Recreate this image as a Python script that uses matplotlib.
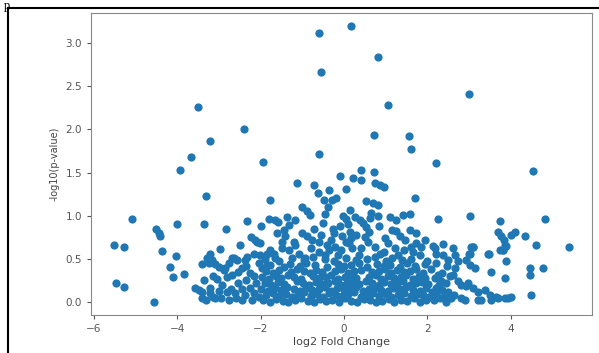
import numpy as np
import matplotlib
matplotlib.use('Agg')
import matplotlib.pyplot as plt
from matplotlib.lines import Line2D

# significant / high points
top_fc = [-3.50, -2.40, -3.21, -3.67, -3.93, -1.94, -3.32, -0.59, 0.18, 0.81,
          -0.55, 3.00, 1.05, 0.72, 1.57, 1.61, -0.59, 2.21, 4.54, 0.40,
          0.72, -0.10, 0.22, 0.42, 0.74, 0.86, 0.96, 1.70, 0.54, 0.70,
          -1.13, -0.71, -0.63, -0.36, 0.04, -0.47, -0.29, -0.18, -1.77, 0.82]
top_logp = [2.26, 2.00, 1.87, 1.68, 1.53, 1.62, 1.23, 3.12, 3.20, 2.84,
            2.67, 2.41, 2.28, 1.94, 1.92, 1.77, 1.71, 1.61, 1.52, 1.53,
            1.51, 1.46, 1.44, 1.41, 1.38, 1.36, 1.33, 1.20, 1.17, 1.15,
            1.38, 1.36, 1.26, 1.30, 1.31, 1.18, 1.18, 1.20, 1.18, 1.12]

# middle band
mid_fc = [-5.08, -4.00, -3.37, -2.82, -2.32, -4.51, -4.45, -4.41, -5.52, -5.29,
          -4.37, -4.03, -2.49, -2.23, -3.21, -2.97, -1.98, -1.81, -1.59, -1.36,
          -2.01, -2.09, -0.38, 0.14, -1.01, -0.89, -0.82, 0.26, 0.38, 0.04,
          -1.65, -1.18, -1.33, -1.45, -0.71, -0.26, -0.23, 0.14, 0.18, -1.41,
          -1.49, -1.01, -0.89, -0.77, -0.61, -2.13, -0.22, -0.06, -1.77, -1.33,
          -1.09, -0.61, -1.17, -1.49, 0.66, 0.82, 1.10, 1.26, 1.42, 1.58,
          2.26, 0.46, 0.54, 0.61, 1.58, 1.74, 0.98, 0.58, 1.34, 1.46,
          1.74, 1.86, 2.14, 2.38, 1.22, 2.22, 2.38, 0.86, 1.66, 1.82,
          3.02, 3.00, 3.74, 4.82, 3.70, 3.77, 3.84, 4.10, 4.02, 4.34,
          4.60, 5.40, 3.90, 3.74, 3.48, 3.06, -0.40, 0.05, 0.40, 0.75,
          1.05, 1.60, -0.05, 0.30, 1.15, 0.85, -0.50, 1.95, -0.93, -0.46,
          2.18, 2.62, 3.10, 3.82,
          -0.30, -0.10, 0.10, 0.20, -0.15, 0.35, -0.55, 0.50, -0.80, 1.30,
          1.45, -1.60, 0.95, 1.25, -0.45, -0.02, 0.12, -0.35, 0.62, -1.20]
mid_logp = [0.96, 0.90, 0.90, 0.85, 0.94, 0.85, 0.80, 0.76, 0.66, 0.64,
            0.59, 0.53, 0.66, 0.75, 0.56, 0.61, 0.88, 0.96, 0.93, 0.98,
            0.68, 0.70, 1.10, 1.07, 1.10, 1.06, 1.01, 0.98, 0.95, 0.96,
            0.95, 0.95, 0.89, 0.84, 0.85, 0.85, 0.80, 0.81, 0.74, 0.76,
            0.70, 0.80, 0.76, 0.72, 0.70, 0.72, 0.64, 0.60, 0.60, 0.60,
            0.56, 0.58, 0.66, 0.62, 1.03, 1.00, 0.99, 0.95, 1.01, 1.02,
            0.96, 0.92, 0.87, 0.81, 0.83, 0.80, 0.74, 0.70, 0.76, 0.72,
            0.68, 0.64, 0.65, 0.67, 0.62, 0.56, 0.54, 0.56, 0.58, 0.54,
            1.00, 0.56, 0.94, 0.96, 0.81, 0.76, 0.72, 0.81, 0.78, 0.76,
            0.66, 0.64, 0.65, 0.60, 0.56, 0.64, 0.66, 0.70, 0.62, 0.64,
            0.68, 0.64, 0.76, 0.78, 0.84, 0.88, 0.92, 0.72, 0.51, 0.54,
            0.62, 0.62, 0.64, 0.60,
            0.72, 0.88, 0.90, 0.62, 0.55, 0.55, 0.78, 0.75, 0.62, 0.55,
            0.60, 0.80, 0.58, 0.82, 1.02, 1.00, 0.68, 0.60, 0.97, 0.70]

# outer low points (left tail, right tail)
side_fc = [-4.17, -4.11, -3.83, -5.48, -5.29, -4.56,
           -3.41, -3.29, -3.17, -3.25, -3.09, -2.89, -2.65, -2.37, -2.69, -2.57,
           -2.85, -2.69, -2.45, -2.25, -3.05, -2.81, -3.49, -3.41, -3.57, -3.41,
           -3.21, -3.01, -2.81, -2.61, -2.37, -2.17, -3.21, -3.09, -2.77, -2.45,
           -2.33, -2.17, -2.01, -1.85, -1.69, -1.97, -1.85, -1.65, -3.30, -3.15,
           -2.95, -2.60, -2.20, -2.05, -3.35, -3.15, -2.93, -2.55, -2.35, -2.10,
           -2.70, -2.15, -2.05, -2.45, -2.25, -2.55, -2.35, -2.75, -3.00,
           2.50, 3.10, 3.02, 2.94, 3.02, 3.14, 3.46, 3.86, 3.82, 3.90,
           3.54, 3.86, 2.66, 2.62, 2.74, 2.82, 2.94, 3.10, 3.22, 3.38,
           3.50, 3.66, 3.86, 4.02, 2.26, 2.34, 2.22, 2.42, 2.58, 2.90,
           3.22, 3.54, 2.66, 2.74, 4.46, 4.46, 4.78, 4.48, 3.94, 2.98,
           3.30, 2.15, 2.30, 2.45, 2.20, 2.35, 2.50, 2.28, 2.45, 2.18,
           2.35, 2.10, 2.55, 2.65, 2.80, 2.22, 2.48, 3.70]
side_logp = [0.40, 0.29, 0.32, 0.22, 0.17, 0.00,
             0.44, 0.51, 0.49, 0.45, 0.44, 0.37, 0.51, 0.49, 0.51, 0.49,
             0.39, 0.31, 0.39, 0.33, 0.27, 0.29, 0.14, 0.04, 0.16, 0.12,
             0.16, 0.13, 0.12, 0.10, 0.08, 0.10, 0.10, 0.04, 0.02, 0.02,
             0.52, 0.56, 0.54, 0.56, 0.56, 0.39, 0.43, 0.51, 0.02, 0.06,
             0.05, 0.04, 0.02, 0.06, 0.25, 0.30, 0.20, 0.22, 0.25, 0.22,
             0.15, 0.30, 0.45, 0.15, 0.16, 0.35, 0.42, 0.45, 0.40,
             0.49, 0.64, 0.56, 0.49, 0.43, 0.39, 0.56, 0.66, 0.60, 0.47,
             0.35, 0.28, 0.39, 0.31, 0.24, 0.20, 0.18, 0.16, 0.12, 0.14,
             0.08, 0.06, 0.04, 0.06, 0.31, 0.24, 0.16, 0.08, 0.04, 0.02,
             0.02, 0.02, 0.54, 0.47, 0.39, 0.31, 0.39, 0.08, 0.04, 0.22,
             0.02, 0.02, 0.05, 0.00, 0.10, 0.14, 0.12, 0.20, 0.22, 0.28,
             0.34, 0.38, 0.30, 0.08, 0.05, 0.45, 0.42, 0.04]

# dense bulk near zero
core_fc = [-1.95, -1.78, -1.63, -1.47, -1.34, -1.17, -1.02, -0.86, -0.73, -0.57,
           -0.44, -0.28, -0.13, 0.03, 0.18, 0.31, 0.47, 0.63, 0.76, 0.92,
           1.07, 1.21, 1.38, 1.52, 1.67, 1.83, 1.97,
           -1.88, -1.70, -1.56, -1.40, -1.25, -1.10, -0.95, -0.80, -0.64, -0.50,
           -0.36, -0.20, -0.05, 0.10, 0.25, 0.40, 0.55, 0.70, 0.84, 1.00,
           1.14, 1.30, 1.45, 1.60, 1.75, 1.90, 2.05,
           -1.98, -1.82, -1.66, -1.52, -1.36, -1.20, -1.06, -0.90, -0.76, -0.60,
           -0.46, -0.31, -0.16, 0.00, 0.14, 0.29, 0.45, 0.60, 0.74, 0.90,
           1.05, 1.20, 1.35, 1.50, 1.65, 1.82, 1.96, 2.12,
           -1.90, -1.74, -1.58, -1.44, -1.12, -0.98, -0.83, -0.68, -0.53, -0.38,
           -0.22, -0.08, 0.08, 0.22, 0.37, 0.52, 0.68, 0.83, 0.97, 1.12,
           1.27, 1.42, 1.58, 1.73, 1.88, 2.02,
           -1.96, -1.80, -1.64, -1.50, -1.35, -1.20, -1.04, -0.74, -0.60, -0.44,
           -0.30, -0.14, 0.02, 0.16, 0.30, 0.60, 0.76, 0.90, 1.05, 1.20,
           1.36, 1.50, 1.66, 1.80, 1.95,
           -1.88, -1.70, -1.55, -1.28, -1.12, -0.96, -0.82, -0.66, -0.52, -0.22,
           -0.06, 0.10, 0.24, 0.40, 0.68, 0.84, 0.98, 1.14, 1.28, 1.44,
           1.58, 1.74, 1.90,
           -1.78, -1.45, -1.30, -1.05, -0.90, -0.70, -0.40, -0.15, 0.00, 0.18,
           0.35, 0.55, 0.80, 0.95, 1.10, 1.35, 1.52, 1.70, 1.95,
           -1.90, -1.55, -1.25, -0.95, -0.75, -0.45, -0.25, 0.05, 0.30, 0.55,
           0.75, 1.00, 1.15, 1.40, 1.60, 2.00]
core_logp = [0.02, 0.00, 0.03, 0.01, 0.00, 0.02, 0.04, 0.01, 0.00, 0.03,
             0.01, 0.02, 0.00, 0.04, 0.01, 0.00, 0.03, 0.02, 0.00, 0.01,
             0.03, 0.00, 0.02, 0.01, 0.04, 0.00, 0.02,
             0.08, 0.10, 0.07, 0.09, 0.06, 0.08, 0.11, 0.07, 0.09, 0.06,
             0.10, 0.08, 0.07, 0.09, 0.11, 0.06, 0.08, 0.10, 0.07, 0.09,
             0.06, 0.08, 0.10, 0.07, 0.09, 0.08, 0.06,
             0.15, 0.13, 0.16, 0.14, 0.17, 0.15, 0.13, 0.16, 0.14, 0.15,
             0.17, 0.13, 0.16, 0.14, 0.15, 0.17, 0.13, 0.15, 0.16, 0.14,
             0.13, 0.16, 0.15, 0.17, 0.14, 0.13, 0.16, 0.12,
             0.22, 0.20, 0.23, 0.21, 0.24, 0.22, 0.20, 0.23, 0.21, 0.22,
             0.24, 0.20, 0.22, 0.23, 0.21, 0.24, 0.22, 0.20, 0.23, 0.21,
             0.22, 0.24, 0.20, 0.22, 0.23, 0.21,
             0.29, 0.27, 0.30, 0.28, 0.31, 0.29, 0.27, 0.30, 0.28, 0.29,
             0.31, 0.27, 0.29, 0.30, 0.28, 0.29, 0.31, 0.27, 0.30, 0.28,
             0.29, 0.31, 0.27, 0.30, 0.28,
             0.36, 0.34, 0.37, 0.35, 0.38, 0.36, 0.34, 0.37, 0.35, 0.36,
             0.38, 0.34, 0.36, 0.37, 0.35, 0.36, 0.38, 0.34, 0.37, 0.35,
             0.36, 0.38, 0.34,
             0.43, 0.41, 0.44, 0.42, 0.45, 0.43, 0.41, 0.44, 0.42, 0.43,
             0.45, 0.41, 0.44, 0.42, 0.43, 0.41, 0.45, 0.42, 0.44,
             0.50, 0.48, 0.51, 0.49, 0.52, 0.50, 0.48, 0.51, 0.49, 0.50,
             0.52, 0.48, 0.51, 0.49, 0.50, 0.48]

fc = np.array(top_fc + mid_fc + side_fc + core_fc)
logp = np.array(top_logp + mid_logp + side_logp + core_logp)

fig = plt.figure(figsize=(5.99, 3.53), dpi=100)
ax = fig.add_axes([0.152, 0.108, 0.836, 0.855])
ax.scatter(fc, logp, s=35, color='#1f77b4', linewidths=0)

ax.set_xticks([-6, -4, -2, 0, 2, 4])
ax.set_yticks([0.0, 0.5, 1.0, 1.5, 2.0, 2.5, 3.0])
ax.set_xlim(-6.07, 5.95)
ax.set_ylim(-0.15, 3.35)
ax.tick_params(labelsize=7.5, colors='#555555', length=3)
for sp in ax.spines.values():
    sp.set_color('#888888')
ax.set_xlabel('log2 Fold Change', fontsize=8, color='#444444', labelpad=2)
ax.set_ylabel('-log10(p-value)', fontsize=7, color='#444444', labelpad=4)

# screenshot frame bits
fig.add_artist(Line2D([0.014, 0.014], [0.0, 0.978], color='black', lw=1.5))
fig.add_artist(Line2D([0.014, 1.0], [0.978, 0.978], color='black', lw=1.5))
fig.text(0.006, 1.0, 'p', fontsize=9, family='Liberation Serif', va='top')

plt.savefig('out.png', dpi=100)
